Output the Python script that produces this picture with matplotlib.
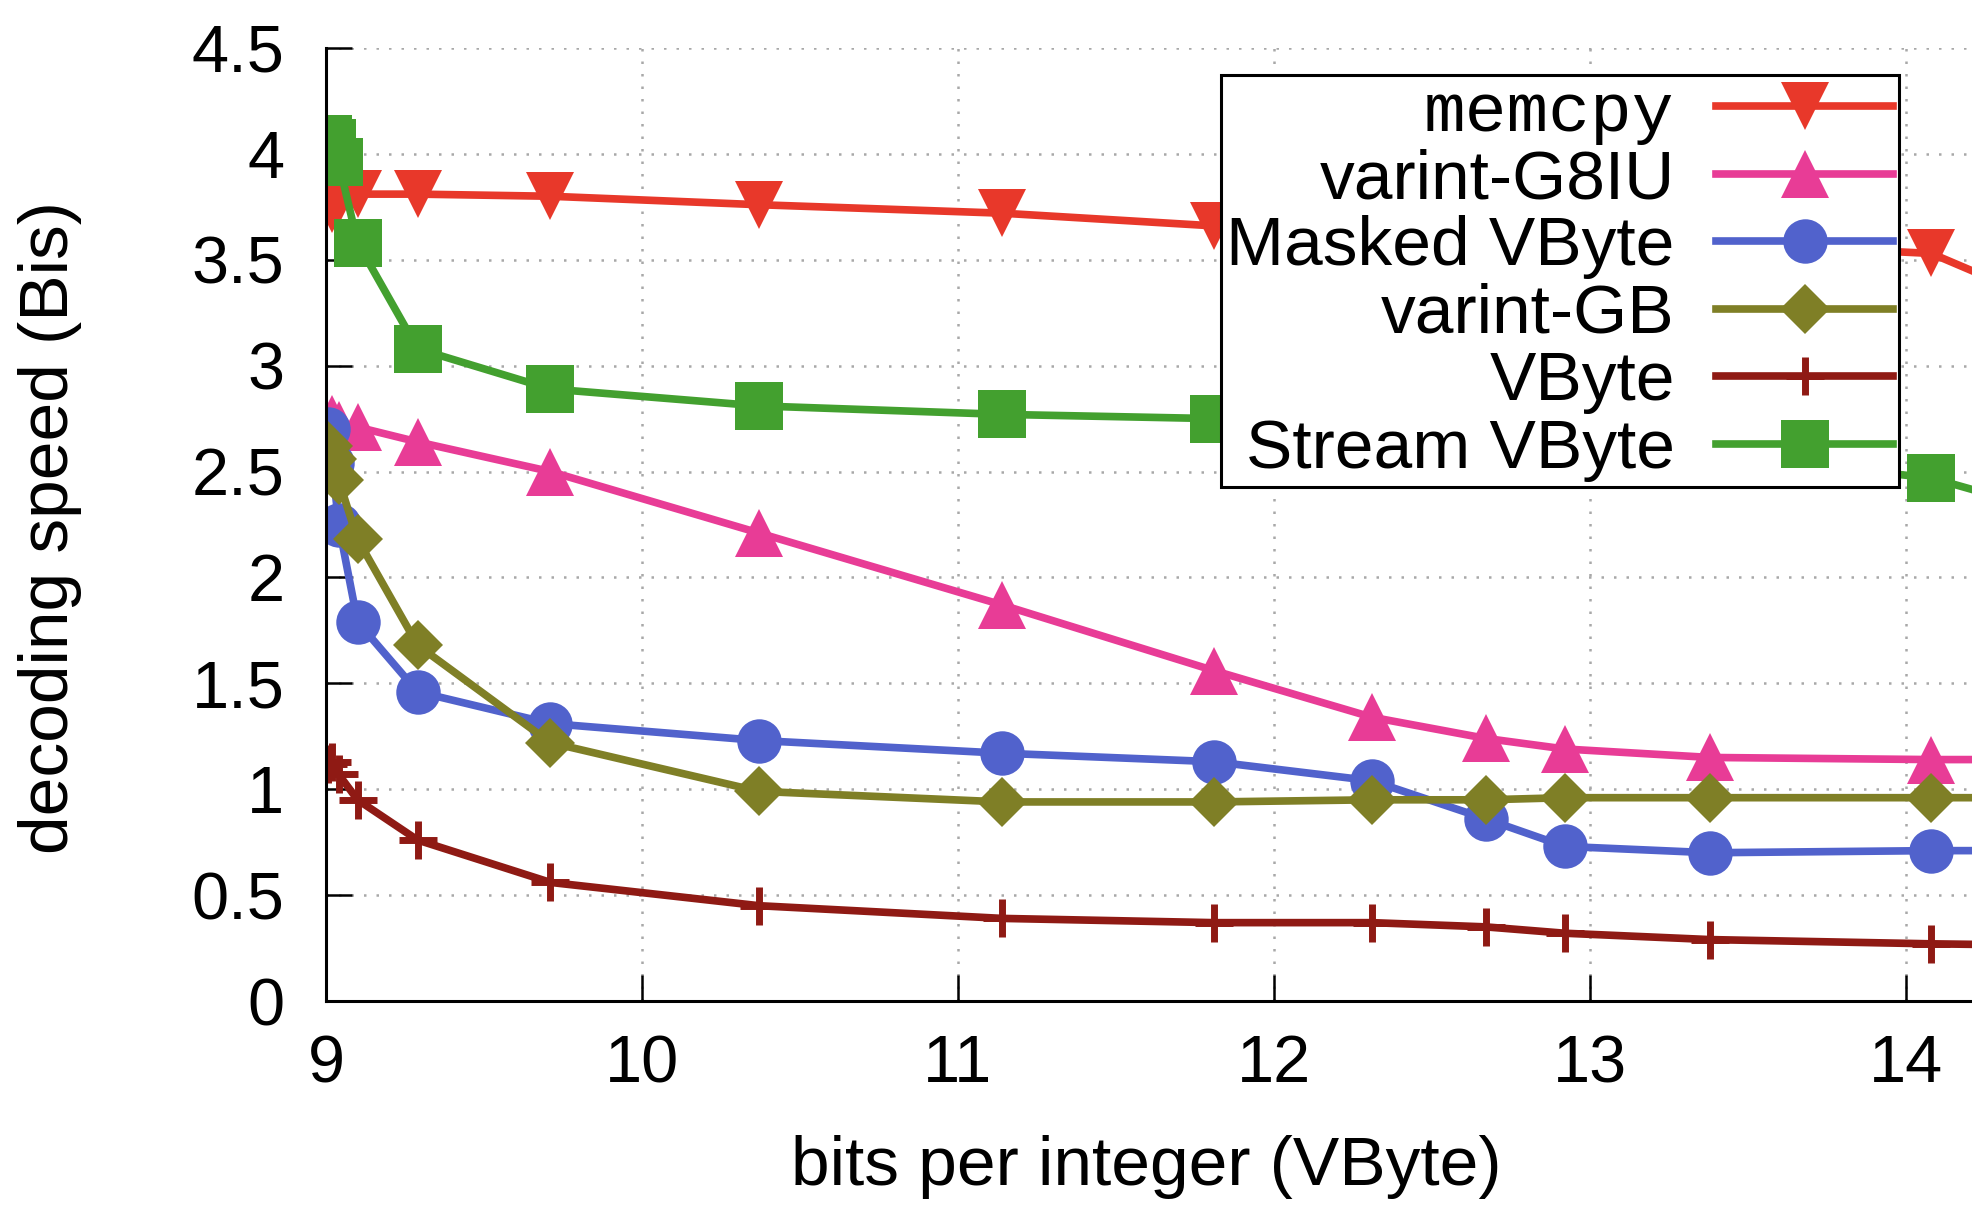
import matplotlib
matplotlib.use("Agg")
import matplotlib.pyplot as plt
from matplotlib.ticker import FormatStrFormatter


# bits per integer (VByte); last point lies just past the right edge
BITS = [9.005, 9.02, 9.04, 9.10, 9.29, 9.71, 10.37, 11.14, 11.81,
        12.31, 12.67, 12.92, 13.38, 14.08, 14.6]

MEMCPY = [3.86, 3.74, 3.78, 3.81, 3.81, 3.80, 3.76, 3.72, 3.66,
          3.63, 3.61, 3.60, 3.58, 3.53, 3.20]
G8IU = [2.66, 2.75, 2.72, 2.71, 2.64, 2.50, 2.21, 1.87, 1.56,
        1.34, 1.24, 1.19, 1.15, 1.14, 1.14]
MASKED = [2.70, 2.54, 2.25, 1.79, 1.46, 1.31, 1.23, 1.17, 1.13,
          1.04, 0.86, 0.73, 0.70, 0.71, 0.71]
GB = [2.62, 2.56, 2.46, 2.18, 1.68, 1.22, 0.99, 0.94, 0.94,
      0.95, 0.95, 0.96, 0.96, 0.96, 0.96]
VBYTE = [1.12, 1.13, 1.07, 0.95, 0.76, 0.56, 0.45, 0.39, 0.37,
         0.37, 0.35, 0.32, 0.29, 0.27, 0.26]
STREAM = [4.07, 4.05, 3.96, 3.58, 3.08, 2.89, 2.81, 2.77, 2.75,
          2.72, 2.68, 2.65, 2.58, 2.47, 2.25]

LABELS = ["memcpy", "varint-G8IU", "Masked VByte", "varint-GB", "VByte", "Stream VByte"]
COLORS = ["#e8382a", "#e83c96", "#5162cc", "#7f7f26", "#8f1a14", "#43a02f"]
MARKERS = ["v", "^", "o", "D", "+", "s"]
SIZES = [35, 35, 32, 25, 28, 34]

YTICKS = [0, 0.5, 1, 1.5, 2, 2.5, 3, 3.5, 4, 4.5]
XTICKS = [9, 10, 11, 12, 13, 14]

plt.rcParams["font.family"] = ["Liberation Sans", "DejaVu Sans"]

W, H = 1972, 1205
fig = plt.figure(figsize=(W / 100, H / 100), dpi=100)
ax = fig.add_axes([326 / W, 1 - 1001 / H, 1 - 326 / W, (1001 - 48) / H])

series = [MEMCPY, G8IU, MASKED, GB, VBYTE, STREAM]
for vals, lab, col, mk, ms in zip(series, LABELS, COLORS, MARKERS, SIZES):
    ax.plot(BITS, vals, color=col, lw=5.5, marker=mk, markersize=ms,
            markeredgewidth=5 if mk == "+" else 0, markeredgecolor=col,
            label=lab)

ax.set_xlim(9, 9 + (W - 326) / 316)
ax.set_ylim(0, 4.5)
ax.set_xticks(XTICKS)
ax.set_yticks(YTICKS)
ax.yaxis.set_major_formatter(FormatStrFormatter("%g"))
ax.grid(True, color="#a8a8a8", linestyle=(0, (1, 4)), lw=1.8)
ax.set_axisbelow(True)

for side in ["top", "right"]:
    ax.spines[side].set_visible(False)
for side in ["left", "bottom"]:
    ax.spines[side].set_linewidth(2.2)

ax.tick_params(axis="both", direction="in", length=19, width=1.8, labelsize=48)
ax.tick_params(axis="x", pad=24)
ax.tick_params(axis="y", pad=30)

fig.text(50 / W, 1 - 528 / H, "decoding speed (Bis)", rotation=90,
         ha="center", va="center", fontsize=50)
fig.text(1146 / W, 1 - 1167 / H, "bits per integer (VByte)",
         ha="center", va="center", fontsize=50)

leg = ax.legend(loc="upper right", bbox_to_anchor=(1899 / W, 1 - 75 / H),
                bbox_transform=fig.transFigure, markerfirst=False,
                fontsize=50, handlelength=2.55, handletextpad=0.6,
                labelspacing=0.05, borderpad=0.08, borderaxespad=0,
                fancybox=False, framealpha=1, edgecolor="black")
leg.get_frame().set_linewidth(2.2)
leg.get_texts()[0].set_fontfamily("Liberation Mono")

fig.savefig("out.png", dpi=100)
